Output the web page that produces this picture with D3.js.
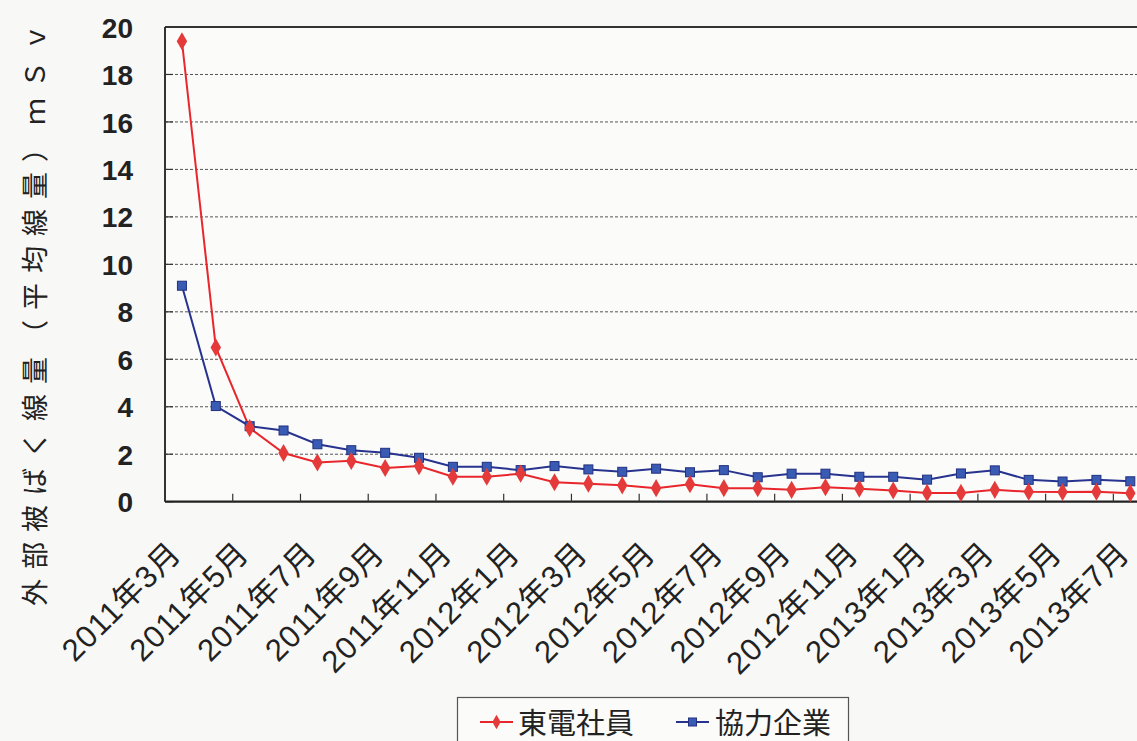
<!DOCTYPE html>
<html>
<head>
<meta charset="utf-8">
<script src="https://cdn.jsdelivr.net/npm/d3@7"></script>
<style>
  html, body { margin: 0; padding: 0; background: #f8f8f6; }
  svg { display: block; }
  .ylab text { font-family: "Liberation Sans", Arial, sans-serif; font-weight: bold; font-size: 28px; fill: #222; }
  .xlab { font-family: "Liberation Sans", "Noto Sans CJK JP", sans-serif; font-size: 31px; letter-spacing: 1px; fill: #222; }
  .ttl { font-family: "Noto Sans CJK JP", sans-serif; font-size: 27px; fill: #222; }
  .leg { font-family: "Noto Sans CJK JP", sans-serif; font-size: 29px; fill: #222; }
</style>
</head>
<body>
<svg id="chart" width="1137" height="741"></svg>
<script>
// Monthly categories, March 2011 to July 2013
const months = [
  "2011年3月","2011年4月","2011年5月","2011年6月","2011年7月","2011年8月","2011年9月","2011年10月","2011年11月","2011年12月",
  "2012年1月","2012年2月","2012年3月","2012年4月","2012年5月","2012年6月","2012年7月","2012年8月","2012年9月","2012年10月",
  "2012年11月","2012年12月","2013年1月","2013年2月","2013年3月","2013年4月","2013年5月","2013年6月","2013年7月"
];

// Average external dose (mSv) — TEPCO employees
const tepcoStaff = [19.4, 6.5, 3.1, 2.05, 1.65, 1.72, 1.42, 1.5, 1.05, 1.05, 1.18, 0.82, 0.76, 0.69, 0.57,
  0.74, 0.57, 0.57, 0.5, 0.61, 0.55, 0.47, 0.37, 0.37, 0.5, 0.42, 0.41, 0.42, 0.36];

// Average external dose (mSv) — contractor companies
const contractors = [9.1, 4.03, 3.18, 3.0, 2.42, 2.17, 2.06, 1.85, 1.47, 1.47, 1.33, 1.5, 1.36, 1.26, 1.39,
  1.24, 1.33, 1.03, 1.18, 1.18, 1.05, 1.05, 0.93, 1.19, 1.32, 0.92, 0.85, 0.92, 0.86];

const yTicks = [0, 2, 4, 6, 8, 10, 12, 14, 16, 18, 20];
const seriesNames = ["東電社員", "協力企業"];
const yTitle = "外部被ばく線量（平均線量）ｍＳｖ";

const svg = d3.select("#chart");
const plotLeft = 165, plotTop = 27, plotBottom = 501.7, band = 33.87;
const plotRight = plotLeft + band * months.length;

const x = d3.scaleBand().domain(months).range([plotLeft, plotRight]).padding(0);
const cx = m => x(m) + x.bandwidth() / 2;
const y = d3.scaleLinear().domain([0, 20]).range([plotBottom, plotTop]);

// plot background
svg.append("rect").attr("x", plotLeft).attr("y", plotTop)
  .attr("width", plotRight - plotLeft).attr("height", plotBottom - plotTop)
  .attr("fill", "#fbfbfa");

// dashed gridlines
svg.append("g").selectAll("line").data(yTicks.filter(v => v > 0 && v < 20)).join("line")
  .attr("x1", plotLeft).attr("x2", plotRight)
  .attr("y1", d => y(d)).attr("y2", d => y(d))
  .attr("stroke", "#555").attr("stroke-width", 1).attr("stroke-dasharray", "3,2");

// inner tick marks on the value axis
svg.append("g").selectAll("line").data(yTicks).join("line")
  .attr("x1", plotLeft).attr("x2", plotLeft + 8)
  .attr("y1", d => y(d)).attr("y2", d => y(d))
  .attr("stroke", "#333").attr("stroke-width", 1.2);

// frame lines
svg.append("line").attr("x1", plotLeft).attr("x2", plotRight).attr("y1", plotTop).attr("y2", plotTop)
  .attr("stroke", "#333").attr("stroke-width", 2);
svg.append("line").attr("x1", plotLeft).attr("x2", plotLeft).attr("y1", plotTop).attr("y2", plotBottom)
  .attr("stroke", "#333").attr("stroke-width", 2);
svg.append("line").attr("x1", plotLeft).attr("x2", plotRight).attr("y1", plotBottom).attr("y2", plotBottom)
  .attr("stroke", "#222").attr("stroke-width", 2.2);

// category ticks every two months
svg.append("g").selectAll("line").data(months.filter((m, i) => i > 0 && i % 2 === 0)).join("line")
  .attr("x1", d => x(d)).attr("x2", d => x(d))
  .attr("y1", plotBottom).attr("y2", plotBottom - 8)
  .attr("stroke", "#333").attr("stroke-width", 1.2);

// value axis labels
const yAxis = d3.axisLeft(y).tickValues(yTicks).tickSize(0).tickPadding(0).tickFormat(d3.format("d"));
const yg = svg.append("g").attr("class", "ylab").attr("transform", "translate(133,0)").call(yAxis);
yg.select(".domain").remove();
yg.selectAll("text").attr("dy", "0.36em");

// category labels, rotated
svg.append("g").selectAll("text").data(months.filter((m, i) => i % 2 === 0)).join("text")
  .attr("class", "xlab")
  .attr("text-anchor", "end")
  .attr("transform", d => `translate(${cx(d) + 1},555) rotate(-45)`)
  .text(d => d);

// axis title
svg.append("text").attr("class", "ttl")
  .attr("transform", "translate(45,606) rotate(-90)")
  .attr("letter-spacing", "10px")
  .text(yTitle);

// series lines and markers
const line = d3.line().x((d, i) => cx(months[i])).y(d => y(d));

svg.append("path").datum(contractors).attr("d", line)
  .attr("fill", "none").attr("stroke", "#27338f").attr("stroke-width", 2);
svg.append("path").datum(tepcoStaff).attr("d", line)
  .attr("fill", "none").attr("stroke", "#e8262b").attr("stroke-width", 2);

svg.append("g").selectAll("rect").data(contractors).join("rect")
  .attr("x", (d, i) => cx(months[i]) - 4.5).attr("y", d => y(d) - 4.5)
  .attr("width", 9).attr("height", 9)
  .attr("fill", "#3a5bb4").attr("stroke", "#22307f").attr("stroke-width", 1);

const diamond = d3.symbol().type(d3.symbolDiamond).size(95);
svg.append("g").selectAll("path").data(tepcoStaff).join("path")
  .attr("d", diamond)
  .attr("transform", (d, i) => `translate(${cx(months[i])},${y(d)})`)
  .attr("fill", "#e43a3a");

// legend
const lg = svg.append("g");
lg.append("rect").attr("x", 457.5).attr("y", 697.5).attr("width", 391).attr("height", 60)
  .attr("fill", "#fbfbfa").attr("stroke", "#555").attr("stroke-width", 1.2);
const legItems = [
  { name: seriesNames[0], x0: 480, color: "#e8262b", mark: "diamond", tx: 518 },
  { name: seriesNames[1], x0: 676, color: "#27338f", mark: "square", tx: 715 }
];
const legDiamond = d3.symbol().type(d3.symbolDiamond).size(60);
legItems.forEach(it => {
  lg.append("line").attr("x1", it.x0).attr("x2", it.x0 + 33).attr("y1", 722).attr("y2", 722)
    .attr("stroke", it.color).attr("stroke-width", 2);
  if (it.mark === "diamond") {
    lg.append("path").attr("d", legDiamond).attr("transform", `translate(${it.x0 + 16.5},722)`).attr("fill", "#e43a3a");
  } else {
    lg.append("rect").attr("x", it.x0 + 12.5).attr("y", 718).attr("width", 8).attr("height", 8)
      .attr("fill", "#3a5bb4").attr("stroke", "#22307f");
  }
  lg.append("text").attr("class", "leg").attr("x", it.tx).attr("y", 734).text(it.name);
});
</script>
</body>
</html>
